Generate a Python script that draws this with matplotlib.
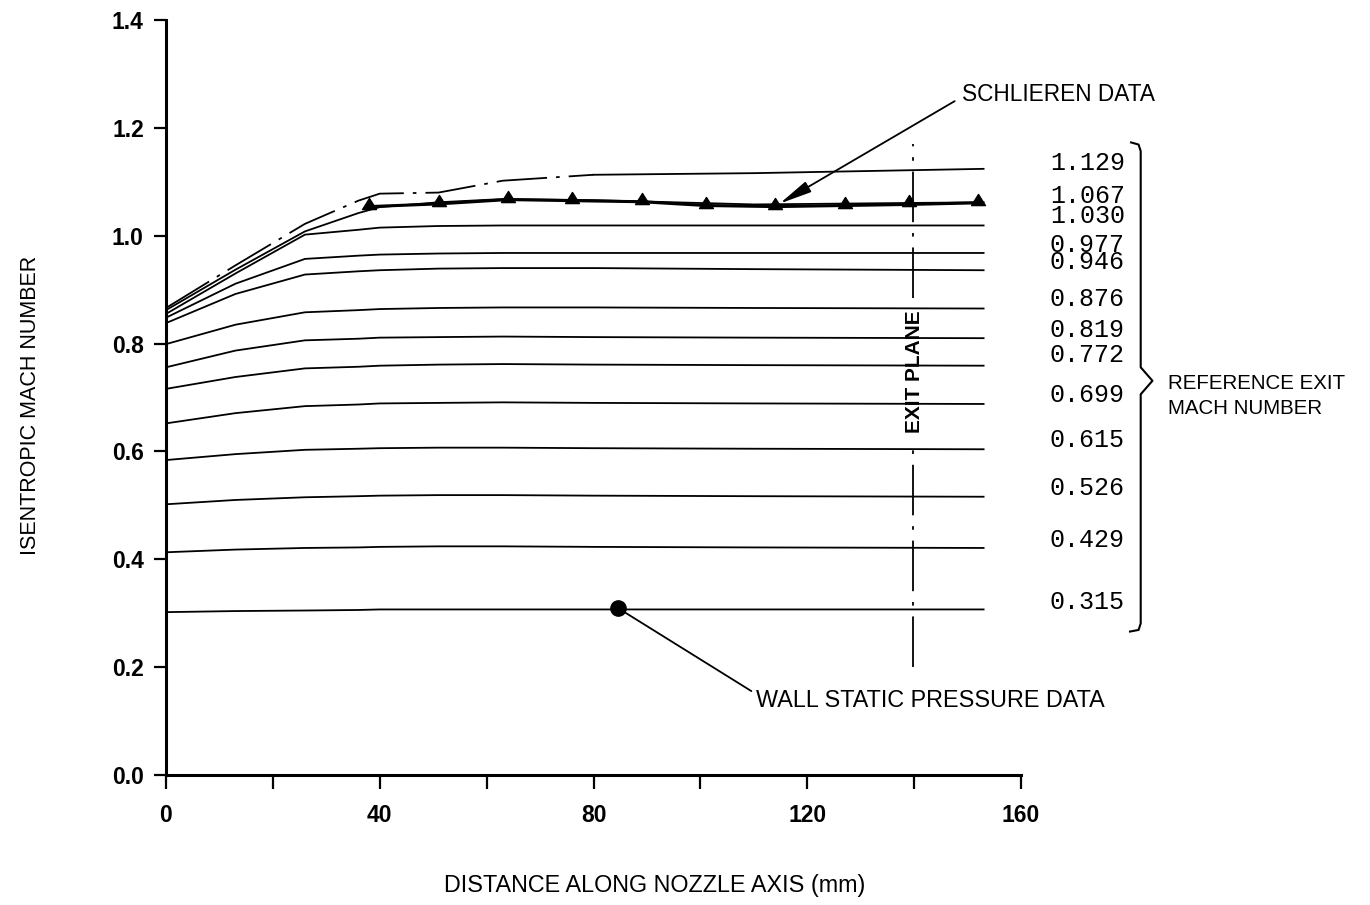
import numpy as np
import matplotlib
matplotlib.use("Agg")
import matplotlib.pyplot as plt
from matplotlib.path import Path

# distance along nozzle axis (mm) where each profile was read
distance = [0, 13, 26, 36, 40, 51, 63, 80, 110, 153]

# reference exit Mach number of each profile, top to bottom
exit_mach = [1.129, 1.067, 1.030, 0.977, 0.946, 0.876, 0.819,
             0.772, 0.699, 0.615, 0.526, 0.429, 0.315]

# isentropic Mach number along the axis, one row per exit Mach number
profiles = [
    [0.866, 0.945, 1.022, 1.065, 1.078, 1.080, 1.102, 1.113, 1.116, 1.124],
    [0.862, 0.937, 1.008, 1.042, 1.053, 1.062, 1.068, 1.066, 1.058, 1.062],
    [0.855, 0.930, 1.002, 1.011, 1.015, 1.018, 1.019, 1.019, 1.019, 1.019],
    [0.848, 0.911, 0.957, 0.963, 0.965, 0.967, 0.968, 0.968, 0.968, 0.968],
    [0.838, 0.892, 0.928, 0.934, 0.936, 0.939, 0.940, 0.940, 0.938, 0.936],
    [0.799, 0.835, 0.858, 0.862, 0.864, 0.866, 0.867, 0.867, 0.866, 0.865],
    [0.756, 0.787, 0.806, 0.809, 0.811, 0.812, 0.813, 0.812, 0.811, 0.810],
    [0.716, 0.738, 0.754, 0.757, 0.759, 0.761, 0.762, 0.761, 0.760, 0.759],
    [0.652, 0.671, 0.684, 0.687, 0.689, 0.690, 0.691, 0.690, 0.689, 0.688],
    [0.584, 0.595, 0.603, 0.605, 0.606, 0.607, 0.607, 0.606, 0.605, 0.604],
    [0.502, 0.510, 0.515, 0.517, 0.518, 0.519, 0.519, 0.518, 0.517, 0.516],
    [0.413, 0.418, 0.421, 0.422, 0.423, 0.424, 0.424, 0.423, 0.422, 0.421],
    [0.302, 0.304, 0.305, 0.306, 0.307, 0.307, 0.307, 0.307, 0.307, 0.307],
]

# schlieren measurements
schlieren_x = [38, 51, 64, 76, 89, 101, 114, 127, 139, 152]
schlieren_m = [1.054, 1.059, 1.067, 1.065, 1.063, 1.056, 1.054, 1.056, 1.058, 1.061]

# wall static pressure point
wall_x = [84.5]
wall_m = [0.310]

exit_plane = 139.7

sans = "Liberation Sans"
mono = "Liberation Mono"

fig = plt.figure(figsize=(13.7, 9.05), dpi=100)
ax = fig.add_axes([166 / 1370, 1 - 775 / 905, 855 / 1370, 755 / 905])

x = np.array(distance)
for i, row in enumerate(profiles):
    y = np.array(row)
    if i == 0:
        # top profile: dash-dot over the rise, solid afterwards
        early = x <= 80
        ax.plot(x[early], y[early], color="black", lw=1.3,
                dashes=(28, 5, 2, 5))
        ax.plot(x[x >= 80], y[x >= 80], color="black", lw=1.3)
    else:
        ax.plot(x, y, color="black", lw=1.3)

# triangle sitting on its data point
tri = Path([(-1, -0.3), (1, -0.3), (0, 1.3), (-1, -0.3)],
           [Path.MOVETO, Path.LINETO, Path.LINETO, Path.CLOSEPOLY])
ax.plot(schlieren_x, schlieren_m, color="black", lw=2.2,
        marker=tri, markersize=13, zorder=4)
ax.plot(wall_x, wall_m, "o", color="black", markersize=11, zorder=4)

# exit plane marker, broken around its label
label_lo, label_hi = 0.612, 0.885
ax.plot([exit_plane, exit_plane], [0.2, label_lo], color="black",
        lw=1.3, dashes=(28, 6, 2, 6))
ax.plot([exit_plane, exit_plane], [label_hi, 1.17], color="black",
        lw=1.3, dashes=(28, 6, 2, 6))
ax.text(exit_plane + 0.3, (label_lo + label_hi) / 2, "EXIT PLANE",
        rotation=90, ha="center", va="center", fontsize=15,
        fontweight="bold", family=sans, zorder=1)

# profile labels
for m in exit_mach:
    ax.text(165.4, m + 0.006, f"{m:.3f}", ha="left", va="center",
            fontsize=18, family=mono, clip_on=False)

# brace grouping the labels
top = max(exit_mach) + 0.04
bot = min(exit_mach) - 0.046
tip = (top + bot) / 2 + 0.012
bx = 182.4
brace_x = [180.6, 182.0, bx, bx, 184.6, bx, bx, 182.0, 180.4]
brace_y = [top + 0.004, top, top - 0.012, tip + 0.025, tip,
           tip - 0.025, bot + 0.012, bot, bot - 0.003]
ax.plot(brace_x, brace_y, color="black", lw=1.5, clip_on=False)
ax.text(187.5, tip - 0.028, "REFERENCE EXIT\nMACH NUMBER", ha="left",
        va="center", fontsize=14.8, family=sans, linespacing=1.45)

ax.annotate("SCHLIEREN DATA", xy=(114.4, 1.057), xytext=(149.0, 1.262),
            ha="left", va="center", fontsize=16.3, family=sans,
            annotation_clip=False,
            arrowprops=dict(arrowstyle="-|>,head_length=1.1,head_width=0.2",
                            color="black", lw=1.3, mutation_scale=18,
                            relpos=(0, 0.4), shrinkA=4, shrinkB=2))
ax.annotate("WALL STATIC PRESSURE DATA", xy=wall_x + wall_m,
            xytext=(110.5, 0.139), ha="left", va="center", fontsize=16.8,
            family=sans, annotation_clip=False,
            arrowprops=dict(arrowstyle="-", color="black", lw=1.3,
                            relpos=(0, 0.75), shrinkA=2, shrinkB=0))

ax.set_xlim(0, 160)
ax.set_ylim(0, 1.4)
ax.set_xticks([0, 40, 80, 120, 160])
ax.set_xticks([20, 60, 100, 140], minor=True)
ax.set_yticks(np.arange(0, 1.41, 0.2))
ax.set_yticklabels([f"{v:.1f}" for v in np.arange(0, 1.41, 0.2)])
for s in ("top", "right"):
    ax.spines[s].set_visible(False)
for s in ("left", "bottom"):
    ax.spines[s].set_linewidth(2.2)
ax.tick_params(axis="x", which="both", direction="out", length=10,
               width=1.6, pad=11)
ax.tick_params(axis="y", direction="out", length=9, width=1.6, pad=7)
for lab in ax.get_xticklabels() + ax.get_yticklabels():
    lab.set_fontsize(16.5)
    lab.set_fontweight("bold")
    lab.set_family(sans)

fig.text(655 / 1370, 1 - 885 / 905, "DISTANCE ALONG NOZZLE AXIS (mm)",
         ha="center", va="center", fontsize=16.8, family=sans)
fig.text(31 / 1370, 1 - 405 / 905, "ISENTROPIC MACH NUMBER", rotation=90,
         ha="center", va="center", fontsize=15.5, family=sans)

fig.savefig("out.png", dpi=100)
